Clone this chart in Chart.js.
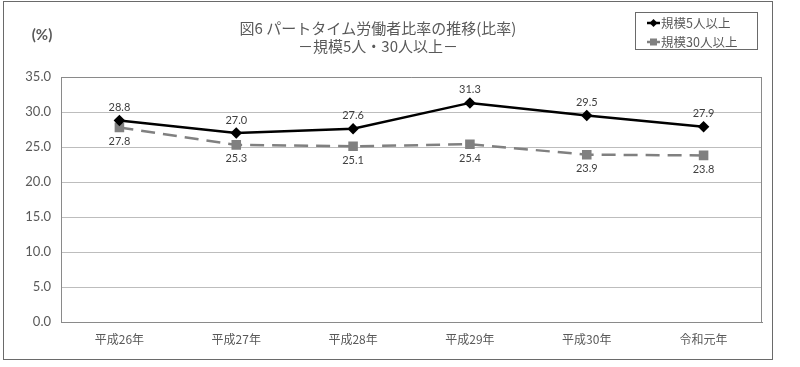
<!DOCTYPE html>
<html><head><meta charset="utf-8">
<script src="https://cdn.jsdelivr.net/npm/chart.js@4/dist/chart.umd.min.js"></script>
<style>html,body{margin:0;padding:0;background:#fff;}#wrap{width:800px;height:367px;}</style>
</head><body><div id="wrap"><canvas id="c" width="800" height="367"></canvas></div>
<script>
const categories = ["平成26年","平成27年","平成28年","平成29年","平成30年","令和元年"];
const seriesNames = ["規模5人以上","規模30人以上"];
const size5 = [28.8, 27.0, 27.6, 31.3, 29.5, 27.9];
const size30 = [27.8, 25.3, 25.1, 25.4, 23.9, 23.8];
const titleLines = ["図6 パートタイム労働者比率の推移(比率)","－規模5人・30人以上－"];
const unitLabel = "(%)";

const JP = '"Noto Sans CJK JP", "Noto Sans", sans-serif';
const NUM = 'Lato, "Open Sans", sans-serif';
const TXT = '#595959';

const framePlugin = {
  id:'frame',
  beforeDraw(chart){
    const ctx = chart.ctx;
    ctx.save();
    ctx.fillStyle='#fff';
    ctx.fillRect(0,0,chart.width,chart.height);
    ctx.strokeStyle='#6a6a6a';
    ctx.lineWidth=1;
    ctx.strokeRect(3.5,1.5,769,358);
    ctx.restore();
  },
  beforeDatasetsDraw(chart){
    const a = chart.chartArea, ctx = chart.ctx;
    ctx.save();
    ctx.strokeStyle='#8a8a8a'; ctx.lineWidth=1;
    ctx.beginPath(); ctx.moveTo(Math.round(a.right)-0.5, a.top); ctx.lineTo(Math.round(a.right)-0.5, a.bottom); ctx.stroke();
    ctx.beginPath(); ctx.moveTo(a.left, Math.round(a.top)+0.5); ctx.lineTo(a.right, Math.round(a.top)+0.5); ctx.stroke();
    ctx.restore();
  },
  afterDraw(chart){
    const ctx = chart.ctx;
    ctx.save();
    // title
    ctx.fillStyle=TXT;
    ctx.textAlign='center';
    ctx.textBaseline='middle';
    ctx.font='15px '+JP;
    ctx.fillText(titleLines[0], 378, 28);
    ctx.fillText(titleLines[1], 378, 46);
    // unit
    ctx.font='bold 15px '+NUM;
    ctx.fillText(unitLabel, 42, 35);
    // legend box
    ctx.strokeStyle='#6a6a6a';
    ctx.lineWidth=1;
    ctx.strokeRect(635.5,12.5,122,37);
    ctx.textAlign='left';
    ctx.font='12.5px '+JP;
    // entry 1
    ctx.strokeStyle='#000'; ctx.lineWidth=2.5;
    ctx.beginPath(); ctx.moveTo(647,23); ctx.lineTo(660,23); ctx.stroke();
    ctx.fillStyle='#000';
    ctx.beginPath(); ctx.moveTo(653.5,19); ctx.lineTo(657.5,23); ctx.lineTo(653.5,27); ctx.lineTo(649.5,23); ctx.closePath(); ctx.fill();
    ctx.fillStyle=TXT; ctx.fillText(seriesNames[0], 661, 23);
    // entry 2
    ctx.strokeStyle='#808080'; ctx.lineWidth=2.5;
    ctx.beginPath(); ctx.moveTo(647,42); ctx.lineTo(660,42); ctx.stroke();
    ctx.fillStyle='#808080'; ctx.fillRect(650,38.5,7,7);
    ctx.fillStyle=TXT; ctx.fillText(seriesNames[1], 661, 42);
    // data labels
    ctx.font='11px '+NUM;
    ctx.fillStyle='#404040';
    ctx.textAlign='center';
    chart.getDatasetMeta(0).data.forEach((p,i)=>{
      ctx.fillText(chart.data.datasets[0].data[i].toFixed(1), p.x, p.y-13);
    });
    chart.getDatasetMeta(1).data.forEach((p,i)=>{
      ctx.fillText(chart.data.datasets[1].data[i].toFixed(1), p.x, p.y+14);
    });
    ctx.restore();
  }
};

new Chart(document.getElementById('c'), {
  type:'line',
  data:{
    labels:categories,
    datasets:[
      {label:seriesNames[0], data:size5, borderColor:'#000', backgroundColor:'#000', borderWidth:2.5,
       pointStyle:'rectRot', pointRadius:4, pointHoverRadius:4, tension:0, order:0},
      {label:seriesNames[1], data:size30, borderColor:'#808080', backgroundColor:'#808080', borderWidth:2.5,
       borderDash:[14,8], pointStyle:'rect', pointRadius:5, pointHoverRadius:5, tension:0, order:1}
    ]
  },
  options:{
    responsive:false, animation:false,
    layout:{padding:{left:0,right:38,top:77,bottom:0}},
    plugins:{legend:{display:false}, title:{display:false}, tooltip:{enabled:false}},
    scales:{
      x:{
        offset:true,
        grid:{display:false, drawTicks:false},
        border:{display:true,color:'#8a8a8a',width:1},
        ticks:{color:TXT, font:{family:JP,size:12}, padding:10, maxRotation:0},
        afterFit(s){ s.height = 45; }
      },
      y:{
        min:0,max:35,
        grid:{color:'#bdbdbd', drawTicks:false, lineWidth:1},
        border:{display:true,color:'#8a8a8a',width:1},
        ticks:{stepSize:5, color:TXT, font:{family:NUM,size:13}, padding:10, callback:v=>v.toFixed(1)},
        afterFit(s){ s.width = 61; }
      }
    }
  },
  plugins:[framePlugin]
});
</script></body></html>
